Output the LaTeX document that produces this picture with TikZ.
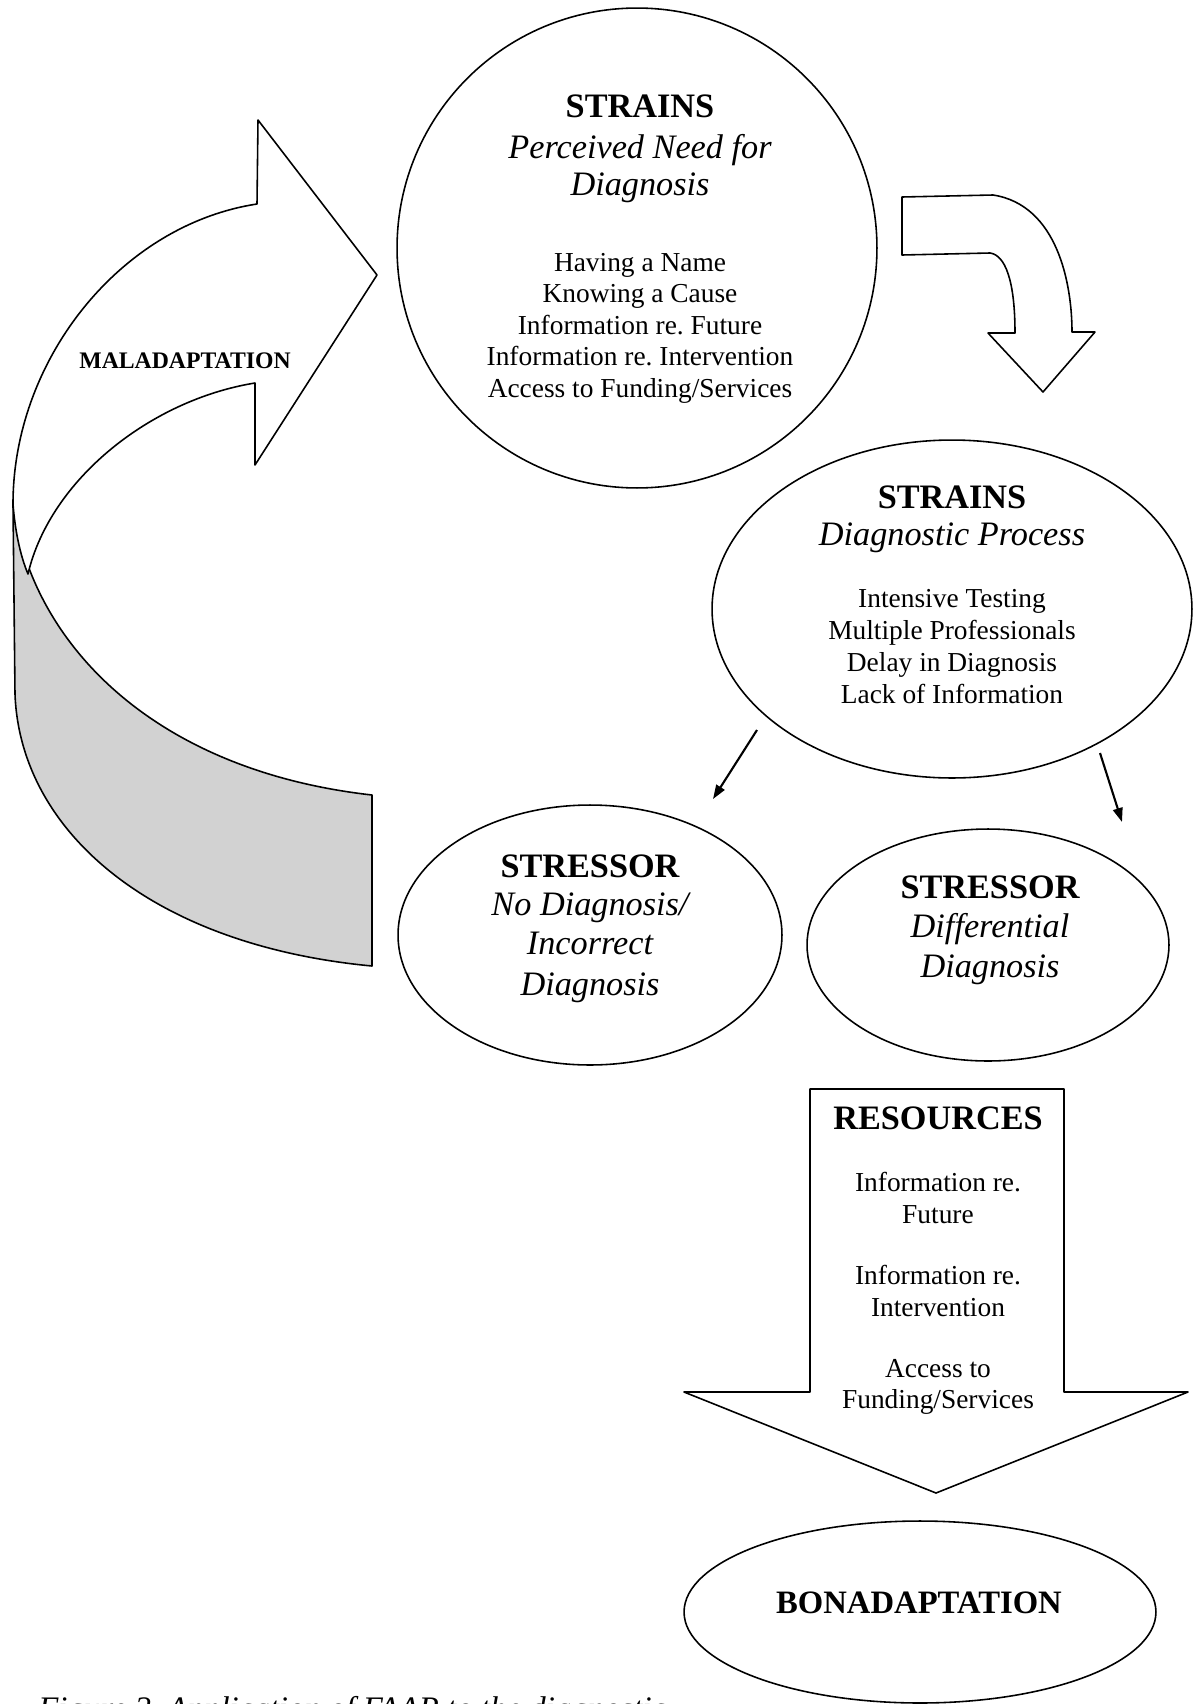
\documentclass[tikz,border=0pt]{standalone}
\usepackage{fontspec}
\setmainfont{Liberation Serif}
\usetikzlibrary{shapes.geometric,arrows.meta}
\definecolor{bandgray}{HTML}{D2D2D2}
\newcommand{\itemfont}{\fontsize{15.6}{17.9}\selectfont}
\newcommand{\headfont}{\fontsize{19.5}{21.5}\selectfont\bfseries}
\newcommand{\subfont}{\fontsize{19.5}{21.5}\selectfont\itshape}
\frenchspacing

\begin{document}
\begin{tikzpicture}[x=0.02cm, y=-0.02cm,
  bubble/.style={draw, line width=0.9pt, inner sep=0pt},
  txt/.style={align=center, inner sep=0pt, font=\itemfont},
  shapeline/.style={line width=0.9pt, line join=round},
  link/.style={line width=1.2pt, -{Triangle[length=8pt,width=5.5pt]}}
]
  \clip (0,0) rectangle (1193,1704);

  % Maladaptation arrow, shaded band
  \filldraw[shapeline, fill=bandgray] (13,504) .. controls (30,640) and (150,770) .. (372,795)
    -- (372,966) .. controls (150,945) and (20,830) .. (15,694) -- cycle;
  % Maladaptation arrow, top face and head
  \filldraw[shapeline, fill=white] (257,204) -- (258,120) -- (377,275) -- (255,465) -- (255,383)
    .. controls (150,400) and (50,480) .. (28,574)
    .. controls (20,555) and (15,530) .. (13,504)
    .. controls (13,360) and (120,225) .. (257,204) -- cycle;
  \node[font=\fontsize{13.5}{16}\selectfont\bfseries] (maltext) at (185,361) {MALADAPTATION};

  % Bent arrow
  \filldraw[shapeline, fill=white] (902,197) -- (993,195) .. controls (1058,205) and (1072,285) .. (1072,332)
    -- (1095,332) -- (1043,392) -- (988,333) -- (1015,333)
    .. controls (1015,280) and (1005,255) .. (990,253) -- (902,255) -- cycle;

  % Strains: perceived need
  \node[bubble, circle, minimum size=9.6cm] (needcirc) at (637,248) {};
  \node[txt] (needtext) at (640,249) {{\headfont STRAINS}\\[5.4pt]
    {\subfont Perceived Need for}\\[3pt]
    {\subfont Diagnosis}\\[25.5pt]
    Having a Name\\Knowing a Cause\\Information re. Future\\
    Information re. Intervention\\Access to Funding/Services};

  % Strains: diagnostic process
  \node[bubble, ellipse, minimum width=9.6cm, minimum height=6.76cm] (dxproc) at (952,609) {};
  \node[txt] (proctext) at (952,595) {{\headfont STRAINS}\\[3.1pt]
    {\subfont Diagnostic Process}\\[17.4pt]
    Intensive Testing\\[0.3pt]Multiple Professionals\\[0.3pt]Delay in Diagnosis\\[0.3pt]Lack of Information};

  % Stressors
  \node[bubble, ellipse, minimum width=7.68cm, minimum height=5.2cm] (nodiag) at (590,935) {};
  \node[txt] (nodiagtext) at (590,929) {{\headfont STRESSOR}\\[3.7pt]
    {\subfont No Diagnosis/}\\[4.3pt]
    {\subfont Incorrect}\\[5.6pt]
    {\subfont Diagnosis}};

  \node[bubble, ellipse, minimum width=7.24cm, minimum height=4.64cm] (diffdiag) at (988,945) {};
  \node[txt] (difftext) at (990,930) {{\headfont STRESSOR}\\[4.3pt]
    {\subfont Differential}\\[5pt]
    {\subfont Diagnosis}};

  \coordinate (procA) at (757,730);
  \coordinate (nodiagA) at (713,799);
  \draw[link] (procA) -- (nodiagA);
  \coordinate (procB) at (1100,753);
  \coordinate (diffB) at (1122,822);
  \draw[link] (procB) -- (diffB);

  % Resources arrow
  \filldraw[shapeline, fill=white] (810,1089) -- (1064,1089) -- (1064,1392) -- (1188,1392)
    -- (936,1493) -- (684,1392) -- (810,1392) -- cycle;
  \node[txt] (restext) at (938,1261) {{\headfont RESOURCES}\\[17.4pt]
    Information re.\\Future\\[17pt]
    Information re.\\Intervention\\[17pt]
    Access to\\Funding/Services};

  % Bonadaptation
  \node[bubble, ellipse, minimum width=9.44cm, minimum height=3.64cm] (bonad) at (920,1612) {};
  \node[font=\fontsize{18.6}{21}\selectfont\bfseries, inner sep=0pt] (bonadtext) at (919,1603) {BONADAPTATION};

  % Caption, cut at the page edge
  \node[anchor=base west, inner sep=0pt, font=\fontsize{18.7}{22}\selectfont\itshape] (caption)
    at (38,1719) {Figure 2. Application of FAAR to the diagnostic};
\end{tikzpicture}
\end{document}
